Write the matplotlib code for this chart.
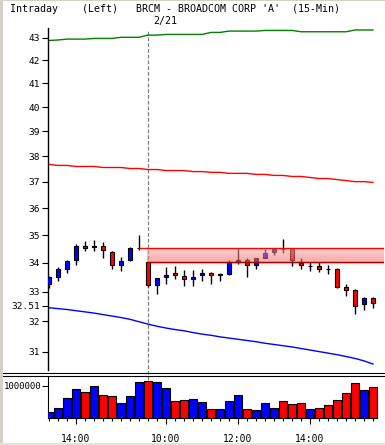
import numpy as np
import matplotlib
matplotlib.use("Agg")
import matplotlib.pyplot as plt
from matplotlib.lines import Line2D
from matplotlib.patches import Rectangle
from matplotlib.ticker import FixedLocator, NullLocator, FixedFormatter

# ---------------- data ----------------
opens = [33.28, 33.52, 33.80, 34.10, 34.62, 34.57, 34.60, 34.39, 33.92, 34.10, 34.52,
         34.04, 33.24, 33.49, 33.64, 33.54, 33.42, 33.56, 33.64, 33.57, 33.61, 34.08,
         34.11, 33.92, 34.19, 34.39, 34.51, 34.50, 33.99, 33.88, 33.88, 33.80, 33.80,
         33.15, 33.04, 32.57, 32.79]
highs = [33.54, 33.85, 34.12, 34.67, 34.79, 34.84, 34.74, 34.41, 34.21, 34.57, 34.99,
         34.04, 33.47, 33.85, 33.90, 33.76, 33.75, 33.80, 33.69, 33.63, 34.12, 34.53,
         34.17, 34.19, 34.50, 34.51, 34.85, 34.50, 34.17, 34.02, 34.03, 33.92, 33.83,
         33.26, 33.08, 32.81, 32.83]
lows = [33.11, 33.35, 33.63, 33.94, 34.41, 34.41, 34.16, 33.77, 33.70, 34.07, 34.47,
        33.15, 32.92, 33.28, 33.43, 33.20, 33.18, 33.37, 33.28, 33.37, 33.56, 33.97,
        33.52, 33.80, 34.16, 34.27, 34.34, 33.90, 33.77, 33.70, 33.67, 33.60, 33.11,
        32.84, 32.24, 32.38, 32.45]
closes = [33.49, 33.78, 34.07, 34.62, 34.53, 34.60, 34.46, 33.92, 34.07, 34.54, 34.54,
          33.23, 33.47, 33.58, 33.56, 33.43, 33.49, 33.65, 33.56, 33.60, 34.04, 34.10,
          33.92, 34.17, 34.36, 34.51, 34.49, 34.09, 33.92, 33.90, 33.80, 33.78, 33.16,
          33.04, 32.51, 32.79, 32.62]
volumes = [0.18e6, 0.33e6, 0.61e6, 0.89e6, 0.80e6, 0.99e6, 0.73e6, 0.67e6, 0.46e6, 0.67e6, 1.10e6,
           1.14e6, 1.10e6, 0.92e6, 0.52e6, 0.55e6, 0.58e6, 0.49e6, 0.30e6, 0.30e6, 0.52e6, 0.73e6,
           0.30e6, 0.24e6, 0.46e6, 0.33e6, 0.52e6, 0.43e6, 0.46e6, 0.30e6, 0.33e6, 0.40e6, 0.55e6,
           0.77e6, 1.07e6, 0.86e6, 0.95e6]
upper_line = [42.88, 42.90, 42.94, 42.94, 42.94, 42.97, 42.97, 42.97, 43.02, 43.02, 43.02,
              43.12, 43.12, 43.15, 43.15, 43.15, 43.15, 43.15, 43.24, 43.24, 43.30, 43.30,
              43.30, 43.30, 43.33, 43.33, 43.33, 43.33, 43.27, 43.27, 43.27, 43.27, 43.27,
              43.27, 43.35, 43.35, 43.35]
middle_line = [37.68, 37.64, 37.64, 37.60, 37.60, 37.60, 37.56, 37.56, 37.56, 37.52, 37.52,
               37.48, 37.48, 37.44, 37.44, 37.44, 37.40, 37.40, 37.37, 37.37, 37.33, 37.33,
               37.33, 37.29, 37.29, 37.25, 37.25, 37.21, 37.21, 37.17, 37.13, 37.13, 37.09,
               37.05, 37.01, 37.01, 36.98]
lower_line = [32.45, 32.42, 32.39, 32.35, 32.31, 32.27, 32.22, 32.17, 32.12, 32.06, 31.98,
              31.90, 31.83, 31.77, 31.72, 31.68, 31.62, 31.57, 31.53, 31.48, 31.44, 31.40,
              31.36, 31.32, 31.27, 31.23, 31.19, 31.15, 31.10, 31.05, 31.00, 30.95, 30.90,
              30.84, 30.78, 30.70, 30.60]
gap_top = 34.54
gap_bottom = 34.04
price_ticks = [31, 32, 32.51, 33, 34, 35, 36, 37, 38, 39, 40, 41, 42, 43]
price_labels = ["31", "32", "32.51", "33", "34", "35", "36", "37", "38", "39", "40", "41", "42", "43"]
time_tick_idx = [3, 13, 21, 29]
time_labels = ["14:00", "10:00", "12:00", "14:00"]
day_break_idx = 11
day_label = "2/21"
vol_ticks = [1000000]
vol_labels = ["1000000"]
title = "Intraday    (Left)   BRCM - BROADCOM CORP 'A'  (15-Min)"

# ---------------- layout ----------------
W, H = 385, 445
MONO = "DejaVu Sans Mono"
fig = plt.figure(figsize=(W / 100, H / 100), dpi=100)
fig.patch.set_facecolor("white")

def rect(x0, y0, x1, y1):
    return [x0 / W, 1 - y1 / H, (x1 - x0) / W, (y1 - y0) / H]

x = np.arange(len(opens))
xlim = ((48 - 49) / 9.0, (384 - 49) / 9.0)

ax = fig.add_axes(rect(48, 28, 384, 370))
axv = fig.add_axes(rect(48, 377, 384, 418.3))
axv.set_facecolor("none")
ax.set_facecolor("white")

up = [c >= o for o, c in zip(opens, closes)]
cols = ["#0000FF" if u else "#FF0000" for u in up]

# ---- main panel ----
ax.set_yscale("log")
ax.set_ylim(30.41, 43.44)
ax.set_xlim(*xlim)

# day separator
ax.plot([day_break_idx - 0.05] * 2, [-0.03, 0.995], transform=ax.get_xaxis_transform(),
        color="#808080", lw=0.9, dashes=(3, 1.6), clip_on=False, zorder=1)

ax.plot(x, upper_line, color="#008000", lw=1.0, zorder=2)
ax.plot(x, middle_line, color="#FF0000", lw=1.0, zorder=2)
ax.plot(x, lower_line, color="#0000FF", lw=1.0, zorder=2)

ax.vlines(x, lows, highs, color="black", lw=1.0, zorder=3)
bh = [c - o if abs(c - o) > 0.012 else 0.02 for o, c in zip(opens, closes)]
bb = [min(o, c) for o, c in zip(opens, closes)]
ax.bar(x, [abs(h) for h in bh], bottom=bb, width=0.55, color=cols, edgecolor="black",
       linewidth=0.8, zorder=3)

# gap band
bx0 = day_break_idx - 0.1
bx1 = xlim[1]
ln_t, ln_b = np.log(gap_top), np.log(gap_bottom)
nstr = 12
c_top = np.array([1.0, 0.66, 0.66])
c_bot = np.array([0.93, 0.40, 0.40])
for k in range(nstr):
    f0 = k / nstr
    f1 = (k + 1) / nstr
    y0 = np.exp(ln_t + (ln_b - ln_t) * f0)
    y1 = np.exp(ln_t + (ln_b - ln_t) * f1)
    c = c_top + (c_bot - c_top) * (f0 + f1) / 2
    ax.fill_between([bx0, bx1], y1, y0, color=tuple(c), alpha=0.55, lw=0, zorder=4)
# shadow
step = 1 / 959
for k, a in enumerate([0.35, 0.22, 0.12, 0.05]):
    y0 = np.exp(ln_b - step * k)
    y1 = np.exp(ln_b - step * (k + 1))
    ax.fill_between([bx0, bx1], y1, y0, color="#606060", alpha=a, lw=0, zorder=4)
ax.plot([day_break_idx - 1, bx1], [gap_top, gap_top], color="#FF0000", lw=1.0, zorder=5)
ax.plot([bx0, bx1], [gap_bottom, gap_bottom], color="#A00000", lw=1.0, zorder=5)

for s in ["top", "right", "bottom"]:
    ax.spines[s].set_visible(False)
ax.spines["left"].set_linewidth(1.0)
ax.yaxis.set_major_locator(FixedLocator(price_ticks))
ax.yaxis.set_major_formatter(FixedFormatter(price_labels))
ax.yaxis.set_minor_locator(NullLocator())
ax.tick_params(axis="y", direction="out", length=4.5, width=0.8, pad=1.0, labelsize=6.8,
               labelfontfamily=MONO)
ax.set_xticks([])

# ---- volume panel ----
axv.set_xlim(*xlim)
axv.set_ylim(0, 1.267e6)
axv.bar(x, volumes, width=0.78, color=cols, edgecolor="black", linewidth=0.8, zorder=3)
for s in ["top", "right"]:
    axv.spines[s].set_visible(False)
axv.spines["bottom"].set_bounds(xlim[0], 36.4)
axv.yaxis.set_major_locator(FixedLocator(vol_ticks))
axv.yaxis.set_major_formatter(FixedFormatter(vol_labels))
axv.yaxis.set_minor_locator(NullLocator())
axv.tick_params(axis="y", direction="out", length=4.5, width=0.8, pad=0.5, labelsize=6.5,
                labelfontfamily=MONO)
axv.xaxis.set_major_locator(FixedLocator(time_tick_idx))
axv.xaxis.set_major_formatter(FixedFormatter(time_labels))
axv.xaxis.set_minor_locator(FixedLocator(list(x)))
axv.tick_params(axis="x", which="major", direction="out", length=4.5, width=0.8, pad=7,
                labelsize=7, labelfontfamily=MONO)
axv.tick_params(axis="x", which="minor", direction="out", length=2.5, width=0.8)

# ---- decorations ----
fig.text(10 / W, 1 - 8.5 / H, title, family=MONO, fontsize=7.2, ha="left", va="center")
fig.text(153 / W, 1 - 21 / H, day_label, family=MONO, fontsize=7.2, ha="left", va="center")

for yy in (372.5, 375.5):
    fig.add_artist(Line2D([0, 1], [1 - yy / H] * 2, transform=fig.transFigure,
                          color="black", lw=0.8))
fig.add_artist(Rectangle((0, 0), 2.5 / W, 1, transform=fig.transFigure,
                         color="#D4D0C8", lw=0, zorder=10))
fig.add_artist(Rectangle((0, 1 - 1 / H), 1, 1 / H, transform=fig.transFigure,
                         color="#D4D0C8", lw=0, zorder=10))
fig.add_artist(Rectangle((0, 0), 1, 2 / H, transform=fig.transFigure,
                         color="#E4E2DC", lw=0, zorder=10))

fig.savefig("out.png", dpi=100)
